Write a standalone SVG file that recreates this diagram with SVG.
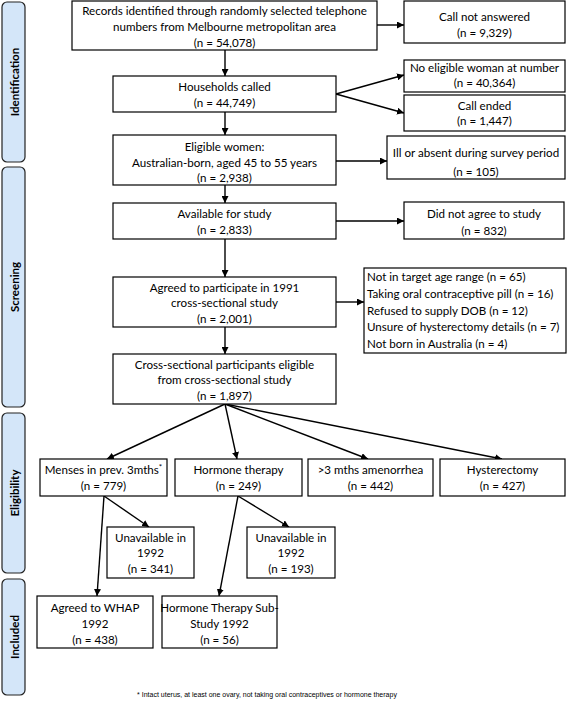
<svg xmlns="http://www.w3.org/2000/svg" width="567" height="701" viewBox="0 0 567 701">
<defs>
<marker id="ah" viewBox="0 0 10 10" refX="10" refY="5" markerWidth="7" markerHeight="7" markerUnits="userSpaceOnUse" orient="auto">
<path d="M0,0 L10,5 L0,10 z" fill="#000"/>
</marker>
<style>
.box{fill:#fff;stroke:#000;stroke-width:1.2}
.side{fill:#d4e6f9;stroke:#222;stroke-width:1.2}
.t{font-family:Lato,"Liberation Sans",sans-serif;font-size:11.6px;fill:#000;text-anchor:middle}
.tl{font-family:Lato,"Liberation Sans",sans-serif;font-size:11.6px;fill:#000}
.s{font-family:Lato,"Liberation Sans",sans-serif;font-size:11.5px;font-weight:bold;fill:#000;text-anchor:middle}
.c{stroke:#000;stroke-width:1.4;fill:none;marker-end:url(#ah)}
.fn{font-family:"Liberation Sans",Arial,sans-serif;font-size:7px;fill:#000;text-anchor:middle}
</style>
</defs>
<rect width="567" height="701" fill="#fff"/>

<g id="phase-identification"><rect class="side" x="2" y="2" width="23" height="160" rx="5"/><text class="s" transform="translate(18.5,82) rotate(-90)">Identification</text></g>
<g id="phase-screening"><rect class="side" x="2" y="167" width="23" height="240" rx="5"/><text class="s" transform="translate(18.5,287) rotate(-90)">Screening</text></g>
<g id="phase-eligibility"><rect class="side" x="2" y="413" width="23" height="160" rx="5"/><text class="s" transform="translate(18.5,493) rotate(-90)">Eligibility</text></g>
<g id="phase-included"><rect class="side" x="2" y="579" width="23" height="116" rx="5"/><text class="s" transform="translate(18.5,637) rotate(-90)">Included</text></g>

<g id="connectors">
<line class="c" x1="377" y1="25" x2="404" y2="25"/>
<line class="c" x1="225" y1="50" x2="225" y2="76"/>
<line class="c" x1="336" y1="94" x2="404" y2="75"/>
<line class="c" x1="336" y1="94" x2="404" y2="113"/>
<line class="c" x1="225" y1="112" x2="225" y2="135"/>
<line class="c" x1="336" y1="161" x2="387" y2="161"/>
<line class="c" x1="225" y1="185" x2="225" y2="203"/>
<line class="c" x1="336" y1="221" x2="404" y2="221"/>
<line class="c" x1="225" y1="239" x2="225" y2="277"/>
<line class="c" x1="336" y1="302" x2="364" y2="302"/>
<line class="c" x1="225" y1="327" x2="225" y2="354"/>
<line class="c" x1="225" y1="404" x2="107" y2="459"/>
<line class="c" x1="225" y1="404" x2="237" y2="459"/>
<line class="c" x1="225" y1="404" x2="368" y2="459"/>
<line class="c" x1="225" y1="404" x2="502" y2="459"/>
<line class="c" x1="104" y1="496" x2="97" y2="596"/>
<line class="c" x1="104" y1="496" x2="149" y2="527"/>
<line class="c" x1="238" y1="496" x2="219" y2="596"/>
<line class="c" x1="238" y1="496" x2="289" y2="527"/>
</g>

<g id="records"><rect class="box" x="72" y="1" width="305" height="49"/>
<text class="t" x="224.5" y="15">Records identified through randomly selected telephone</text>
<text class="t" x="224.5" y="31">numbers from Melbourne metropolitan area</text>
<text class="t" x="224.5" y="47">(n = 54,078)</text></g>

<g id="call-not-answered"><rect class="box" x="404" y="1" width="161" height="42"/>
<text class="t" x="484.5" y="21">Call not answered</text>
<text class="t" x="484.5" y="37">(n = 9,329)</text></g>

<g id="households"><rect class="box" x="113" y="76" width="223" height="36"/>
<text class="t" x="224.5" y="91">Households called</text>
<text class="t" x="224.5" y="107">(n = 44,749)</text></g>

<g id="no-eligible"><rect class="box" x="404" y="60" width="161" height="32"/>
<text class="t" x="484.5" y="72">No eligible woman at number</text>
<text class="t" x="484.5" y="87">(n = 40,364)</text></g>

<g id="call-ended"><rect class="box" x="404" y="95" width="161" height="36"/>
<text class="t" x="484.5" y="110">Call ended</text>
<text class="t" x="484.5" y="125">(n = 1,447)</text></g>

<g id="eligible-women"><rect class="box" x="113" y="135" width="223" height="50"/>
<text class="t" x="224.5" y="151">Eligible women:</text>
<text class="t" x="224.5" y="167">Australian-born, aged 45 to 55 years</text>
<text class="t" x="224.5" y="182">(n = 2,938)</text></g>

<g id="ill-absent"><rect class="box" x="387" y="136" width="178" height="43"/>
<text class="t" x="476" y="157">Ill or absent during survey period</text>
<text class="t" x="476" y="176">(n = 105)</text></g>

<g id="available"><rect class="box" x="113" y="203" width="223" height="36"/>
<text class="t" x="224.5" y="218">Available for study</text>
<text class="t" x="224.5" y="234">(n =  2,833)</text></g>

<g id="did-not-agree"><rect class="box" x="404" y="202" width="160" height="37"/>
<text class="t" x="484" y="218">Did not agree to study</text>
<text class="t" x="484" y="235">(n = 832)</text></g>

<g id="agreed"><rect class="box" x="113" y="277" width="223" height="50"/>
<text class="t" x="224.5" y="292">Agreed to participate in 1991</text>
<text class="t" x="224.5" y="307">cross-sectional study</text>
<text class="t" x="224.5" y="323">(n =  2,001)</text></g>

<g id="exclusions"><rect class="box" x="364" y="268" width="202" height="85"/>
<text class="tl" x="367" y="281">Not in target age range (n = 65)</text>
<text class="tl" x="367" y="298">Taking oral contraceptive pill (n = 16)</text>
<text class="tl" x="367" y="315">Refused to supply DOB (n = 12)</text>
<text class="tl" x="367" y="331">Unsure of hysterectomy details (n = 7)</text>
<text class="tl" x="367" y="348">Not born in Australia (n = 4)</text></g>

<g id="cross-sectional"><rect class="box" x="113" y="354" width="223" height="50"/>
<text class="t" x="224.5" y="369">Cross-sectional participants eligible</text>
<text class="t" x="224.5" y="384">from cross-sectional study</text>
<text class="t" x="224.5" y="400">(n = 1,897)</text></g>

<g id="menses"><rect class="box" x="40" y="459" width="127" height="37"/>
<text class="t" x="103.5" y="474">Menses in prev. 3mths<tspan font-size="8" dy="-4">*</tspan></text>
<text class="t" x="103.5" y="490">(n = 779)</text></g>

<g id="hormone"><rect class="box" x="175" y="459" width="127" height="37"/>
<text class="t" x="238.5" y="474">Hormone therapy</text>
<text class="t" x="238.5" y="490">(n = 249)</text></g>

<g id="amenorrhea"><rect class="box" x="308" y="459" width="125" height="37"/>
<text class="t" x="370.5" y="474">&gt;3 mths amenorrhea</text>
<text class="t" x="370.5" y="490">(n = 442)</text></g>

<g id="hysterectomy"><rect class="box" x="440" y="459" width="125" height="37"/>
<text class="t" x="502.5" y="474">Hysterectomy</text>
<text class="t" x="502.5" y="490">(n = 427)</text></g>

<g id="unavailable-1"><rect class="box" x="107" y="527" width="87" height="51"/>
<text class="t" x="150.5" y="542">Unavailable in</text>
<text class="t" x="150.5" y="557">1992</text>
<text class="t" x="150.5" y="573">(n = 341)</text></g>

<g id="unavailable-2"><rect class="box" x="247" y="527" width="88" height="51"/>
<text class="t" x="291" y="542">Unavailable in</text>
<text class="t" x="291" y="557">1992</text>
<text class="t" x="291" y="573">(n = 193)</text></g>

<g id="whap"><rect class="box" x="37" y="596" width="116" height="52"/>
<text class="t" x="95" y="612">Agreed to WHAP</text>
<text class="t" x="95" y="628">1992</text>
<text class="t" x="95" y="644">(n = 438)</text></g>

<g id="ht-substudy"><rect class="box" x="162" y="596" width="115" height="52"/>
<text class="t" x="219.5" y="612">Hormone Therapy Sub-</text>
<text class="t" x="219.5" y="628">Study 1992</text>
<text class="t" x="219.5" y="644">(n = 56)</text></g>

<text class="fn" x="267" y="697">* Intact uterus, at least one ovary, not taking oral contraceptives or hormone therapy</text>
</svg>
